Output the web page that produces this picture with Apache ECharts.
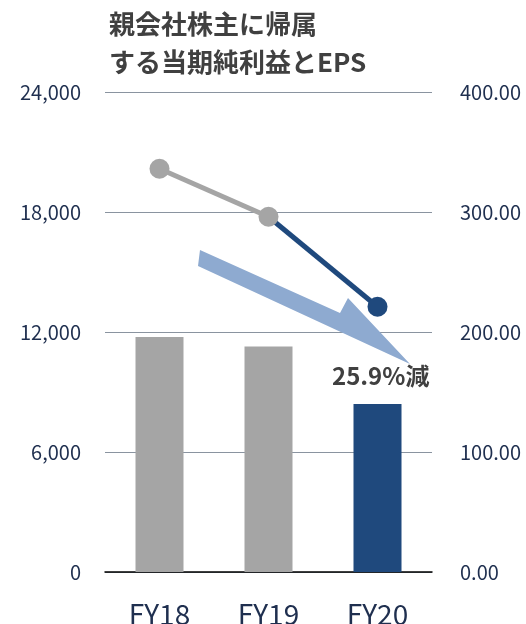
<!DOCTYPE html>
<html>
<head>
<meta charset="utf-8">
<script src="https://cdn.jsdelivr.net/npm/echarts@6/dist/echarts.min.js"></script>
<style>
  html, body { margin: 0; padding: 0; background: #ffffff; }
  #chart { width: 526px; height: 624px; }
</style>
</head>
<body>
<div id="chart"></div>
<script>
// data
const categories = ["FY18", "FY19", "FY20"];
const netIncome = [11750, 11270, 8400];
const epsPast = [336, 296, null];
const epsNow = [null, 296, 221];
const titleLines = ["親会社株主に帰属", "する当期純利益とEPS"];
const changeLabel = "25.9%減";

const GRAY = "#a5a5a5";
const NAVY = "#1f497d";
const TEXT = "#1f2f4f";
const FONT = "'Noto Sans CJK JP', 'Noto Sans', sans-serif";

const chart = echarts.init(document.getElementById("chart"));

const option = {
  animation: false,
  textStyle: { fontFamily: FONT },
  grid: {
    left: 105,
    right: 94,
    top: 92,
    bottom: 52,
    containLabel: false,
    outerBoundsMode: "none",
  },
  title: {
    text: titleLines.join("\n"),
    left: 104,
    top: 0,
    textStyle: {
      fontFamily: FONT,
      fontSize: 26,
      fontWeight: "bold",
      color: "#404040",
      lineHeight: 38,
    },
  },
  xAxis: {
    type: "category",
    data: categories,
    axisLine: { lineStyle: { color: "#000000", width: 1.5 } },
    axisTick: { show: false },
    axisLabel: { color: TEXT, fontSize: 28, margin: 28, fontFamily: FONT },
  },
  yAxis: [
    {
      type: "value",
      min: 0,
      max: 24000,
      interval: 6000,
      axisLine: { show: false },
      axisTick: { show: false },
      splitLine: { lineStyle: { color: "#8a94a0", width: 1 } },
      axisLabel: {
        color: TEXT,
        fontSize: 20,
        margin: 24,
        formatter: function (v) {
          return v.toLocaleString("en-US");
        },
      },
    },
    {
      type: "value",
      min: 0,
      max: 400,
      interval: 100,
      axisLine: { show: false },
      axisTick: { show: false },
      splitLine: { show: false },
      axisLabel: {
        color: TEXT,
        fontSize: 20,
        margin: 28,
        formatter: function (v) {
          return v.toFixed(2);
        },
      },
    },
  ],
  series: [
    {
      type: "bar",
      yAxisIndex: 0,
      barWidth: 48,
      data: netIncome.map(function (v, i) {
        return {
          value: v,
          itemStyle: { color: i === netIncome.length - 1 ? NAVY : GRAY },
        };
      }),
      z: 2,
    },
    {
      type: "line",
      yAxisIndex: 1,
      data: epsNow.map(function (v, i) {
        return i === 1 ? { value: v, symbol: "none" } : v;
      }),
      symbol: "circle",
      symbolSize: 20,
      lineStyle: { color: NAVY, width: 5 },
      itemStyle: { color: NAVY },
      z: 3,
    },
    {
      type: "line",
      yAxisIndex: 1,
      data: epsPast,
      symbol: "circle",
      symbolSize: 20,
      lineStyle: { color: GRAY, width: 5 },
      itemStyle: { color: GRAY },
      z: 4,
    },
  ],
  graphic: [
    {
      type: "polygon",
      z: 10,
      shape: {
        points: [
          [200, 250],
          [340, 313],
          [348, 298],
          [410, 364],
          [198, 266],
        ],
      },
      style: { fill: "#8eaad0" },
    },
    {
      type: "text",
      z: 11,
      left: 332,
      top: 364,
      style: {
        text: changeLabel,
        fontFamily: FONT,
        fontSize: 24,
        fontWeight: "bold",
        fill: "#404040",
      },
    },
  ],
};

chart.setOption(option);
</script>
</body>
</html>
